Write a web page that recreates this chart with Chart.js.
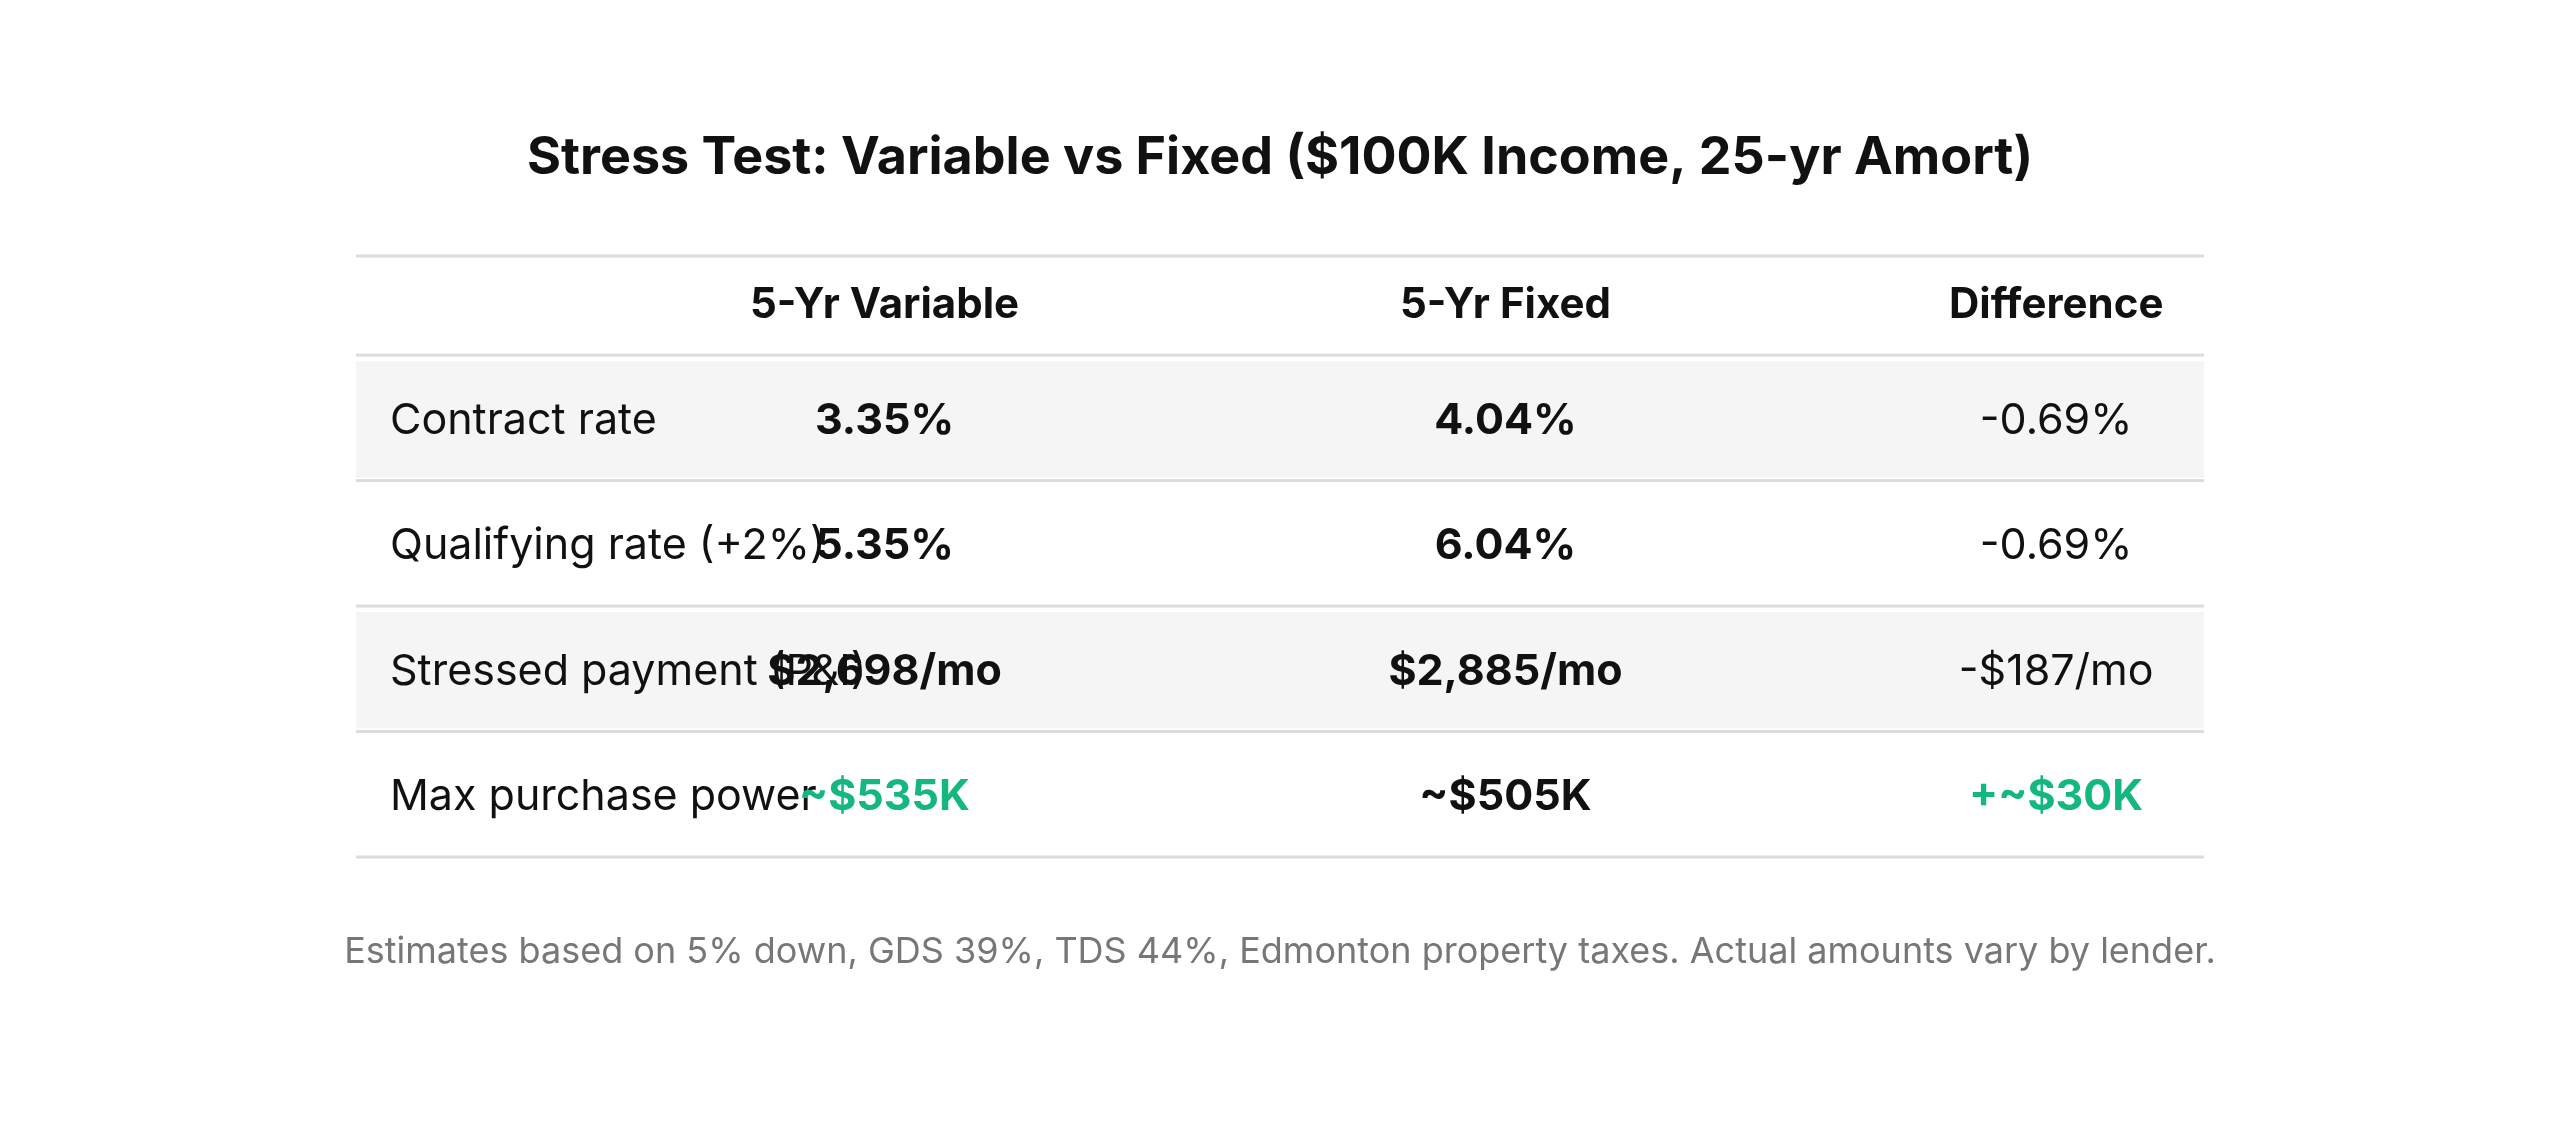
<!DOCTYPE html>
<html>
<head>
<meta charset="utf-8">
<script src="https://cdn.jsdelivr.net/npm/chart.js"></script>
<style>
  html, body { margin:0; padding:0; background:#fff; }
  #wrap { width:2560px; height:1141px; }
</style>
</head>
<body>
<div id="wrap"><canvas id="c"></canvas></div>
<script>
// table data
const title = 'Stress Test: Variable vs Fixed ($100K Income, 25-yr Amort)';
const footnote = 'Estimates based on 5% down, GDS 39%, TDS 44%, Edmonton property taxes. Actual amounts vary by lender.';
const headers = ['', '5-Yr Variable', '5-Yr Fixed', 'Difference'];
const rowLabels = ['Contract rate', 'Qualifying rate (+2%)', 'Stressed payment (P&I)', 'Max purchase power'];
const variableVals = ['3.35%', '5.35%', '$2,698/mo', '~$535K'];
const fixedVals = ['4.04%', '6.04%', '$2,885/mo', '~$505K'];
const diffVals = ['-0.69%', '-0.69%', '-$187/mo', '+~$30K'];
const highlightRow = 3; // green row

const FONT = 'Inter, "Noto Sans", sans-serif';
const GREEN = '#14b87f';

const tablePlugin = {
  id: 'table',
  beforeDatasetsDraw(chart) {
    const { ctx, chartArea: a, scales: { y } } = chart;
    const unit = y.getPixelForValue(2) - y.getPixelForValue(1);
    ctx.save();
    // striped rows
    rowLabels.forEach((_, i) => {
      if (i % 2 !== 0) return;
      const cy = y.getPixelForValue(i + 1);
      ctx.fillStyle = '#f5f5f5';
      ctx.fillRect(a.left, cy - unit / 2 + 6, a.right - a.left, unit - 9);
    });
    // row lines
    ctx.fillStyle = '#dcdcdc';
    const lines = [a.top];
    for (let k = 0; k <= rowLabels.length; k++) lines.push(y.getPixelForValue(k + 0.5));
    lines.forEach(yy => ctx.fillRect(a.left, yy - 1.5, a.right - a.left, 3));
    ctx.restore();
  },
  afterDraw(chart) {
    const { ctx, chartArea: a, scales: { x, y } } = chart;
    const colX = [null, x.getPixelForValue(1), x.getPixelForValue(2), x.getPixelForValue(3)];
    ctx.save();
    ctx.textBaseline = 'middle';
    // title
    ctx.textAlign = 'center';
    ctx.fillStyle = '#111';
    ctx.font = `bold 52px ${FONT}`;
    ctx.fillText(title, 1280, 158);
    // header
    ctx.font = `bold 42px ${FONT}`;
    const hy = y.getPixelForValue(0.1);
    for (let c = 1; c < 4; c++) ctx.fillText(headers[c], colX[c], hy);
    // rows
    rowLabels.forEach((lab, i) => {
      const ry = y.getPixelForValue(i + 1) + 3;
      ctx.textAlign = 'left';
      ctx.fillStyle = '#111';
      ctx.font = `43px ${FONT}`;
      ctx.fillText(lab, a.left + 34, ry);
      ctx.textAlign = 'center';
      ctx.font = `bold 43px ${FONT}`;
      ctx.fillStyle = i === highlightRow ? GREEN : '#111';
      ctx.fillText(variableVals[i], colX[1], ry);
      ctx.fillStyle = '#111';
      ctx.fillText(fixedVals[i], colX[2], ry);
      ctx.font = i === highlightRow ? `bold 43px ${FONT}` : `43px ${FONT}`;
      ctx.fillStyle = i === highlightRow ? GREEN : '#111';
      ctx.fillText(diffVals[i], colX[3], ry);
    });
    // footnote
    ctx.fillStyle = '#777';
    ctx.font = `36px ${FONT}`;
    ctx.fillText(footnote, 1280, 952);
    ctx.restore();
  }
};

new Chart(document.getElementById('c'), {
  type: 'scatter',
  data: { datasets: [{ data: [], pointRadius: 0 }] },
  options: {
    responsive: true,
    maintainAspectRatio: false,
    animation: false,
    layout: { padding: { left: 356, right: 356, top: 256, bottom: 284 } },
    plugins: { legend: { display: false }, tooltip: { enabled: false } },
    scales: {
      x: { type: 'linear', display: false, min: 0, max: 3 },
      // header band is shorter than body rows
      y: { type: 'linear', display: false, min: -0.29, max: rowLabels.length + 0.5, reverse: true }
    }
  },
  plugins: [tablePlugin, {
    id: 'colmap',
    afterLayout(chart) {
      // column centres are not evenly spaced: remap column index to pixel position
      const x = chart.scales.x, a = chart.chartArea, w = a.right - a.left;
      const frac = [0.02, 0.286, 0.622, 0.920];
      x.getPixelForValue = v => a.left + w * frac[v];
    }
  }]
});
</script>
</body>
</html>
